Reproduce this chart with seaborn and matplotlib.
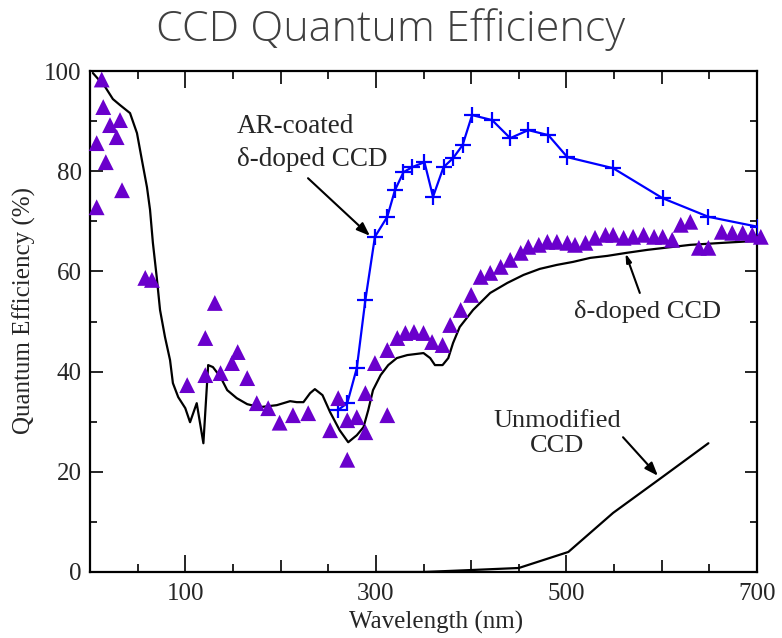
import matplotlib
matplotlib.use("Agg")
import matplotlib.pyplot as plt
import seaborn as sns
import pandas as pd
from matplotlib.ticker import FixedLocator, FixedFormatter

# ---------------- data ----------------
model_x = [3, 16, 24, 31.5, 42, 49.3, 54.5, 59.8, 63, 66, 70, 73.5, 78.7, 84, 87,
           92.6, 100, 105, 112, 119, 124, 129, 137, 144, 154, 165, 178, 196, 210,
           217, 224, 231, 236, 244, 252, 262, 271, 280, 287, 292, 297, 305, 313,
           322, 333, 350, 357, 362, 370, 376, 381, 388, 402, 420, 438, 455, 472,
           490, 507, 525, 543, 563, 585, 612, 630, 664, 700]
model_y = [99.6, 96.8, 94.4, 93.2, 91.6, 87.6, 82.2, 76.8, 72.3, 65.7, 58.9, 52.3,
           46.9, 42.3, 37.7, 34.9, 32.7, 29.9, 33.7, 25.7, 41.3, 40.9, 38.9, 36.3,
           34.7, 33.5, 32.9, 33.3, 34.1, 33.9, 33.9, 35.7, 36.5, 35.3, 31.9, 28.3,
           25.9, 27.3, 28.9, 32.3, 36.3, 39.3, 41.3, 42.7, 43.3, 43.7, 42.7, 41.3,
           41.3, 42.7, 45.7, 48.9, 52.3, 55.7, 57.7, 59.3, 60.5, 61.3, 61.9, 62.7,
           63.1, 63.7, 64.3, 64.9, 65.3, 65.7, 66.1]

ar_x = [260, 270, 280, 289, 299, 312, 320, 329, 338, 351, 360, 371, 381, 391, 401,
        422, 441, 460, 481, 501, 549, 601, 649, 701]
ar_y = [32.3, 33.7, 40.7, 54.3, 66.9, 70.9, 76.2, 79.8, 80.8, 81.8, 74.9, 80.8,
        82.6, 85.2, 91.2, 90.2, 86.6, 88.2, 87.2, 82.8, 80.6, 74.6, 70.9, 68.9]

meas_x = [7, 7, 12.3, 13.9, 16.6, 21, 28, 31.5, 33.6, 58, 65, 102, 121, 121, 131,
          137, 149, 155, 165, 175, 187, 199, 213, 229, 252, 260.5, 270, 270, 280,
          289, 289, 299, 312, 312, 322.5, 331, 340, 350, 359, 370, 378, 389, 400,
          410, 420, 431, 441, 452, 460, 471, 480, 490, 501, 509, 520, 530, 541,
          549, 560, 570, 581, 592, 601, 611, 620, 630, 639, 649, 663, 674, 685,
          695, 704]
meas_y = [85.6, 72.8, 98.3, 92.8, 81.8, 89.2, 86.8, 90.2, 76.2, 58.7, 58.3, 37.3,
          46.7, 39.3, 53.7, 39.7, 41.7, 43.9, 38.7, 33.7, 32.7, 29.8, 31.3, 31.7,
          28.3, 34.7, 30.3, 22.4, 30.9, 27.9, 35.7, 41.7, 31.3, 44.3, 46.7, 47.7,
          47.9, 47.7, 45.9, 45.3, 49.3, 52.3, 55.3, 58.9, 59.7, 60.9, 62.3, 63.7,
          64.9, 65.3, 65.9, 65.9, 65.7, 65.3, 65.7, 66.7, 67.3, 67.3, 66.7, 66.9,
          67.3, 66.9, 66.9, 66.3, 69.3, 69.9, 64.7, 64.7, 67.9, 67.7, 67.7, 67.3,
          66.9]

unmod_x = [300, 350, 401, 450, 502, 549, 601, 649]
unmod_y = [0, 0, 0.4, 0.8, 4.0, 11.8, 19.0, 25.7]

x_major = [100, 200, 300, 400, 500, 600, 700]
x_labels = ["100", "", "300", "", "500", "", "700"]
y_major = [0, 20, 40, 60, 80, 100]

# ---------------- style ----------------
sns.set_style("ticks")
plt.rcParams["font.family"] = ["Liberation Serif", "DejaVu Serif"]

fig = plt.figure(figsize=(7.82, 6.38), dpi=100)
ax = fig.add_axes([90 / 782, 66 / 638, 667 / 782, 501 / 638])

df_model = pd.DataFrame({"x": model_x, "y": model_y})
df_ar = pd.DataFrame({"x": ar_x, "y": ar_y})
df_meas = pd.DataFrame({"x": meas_x, "y": meas_y})
df_unmod = pd.DataFrame({"x": unmod_x, "y": unmod_y})

sns.lineplot(data=df_model, x="x", y="y", ax=ax, color="black", lw=1.6,
             sort=False, estimator=None, zorder=3)
sns.lineplot(data=df_unmod, x="x", y="y", ax=ax, color="black", lw=1.6,
             sort=False, estimator=None, zorder=3)
sns.lineplot(data=df_ar, x="x", y="y", ax=ax, color="#0000FF", lw=1.6,
             sort=False, estimator=None, marker="+", markersize=11,
             markeredgewidth=1.6, markeredgecolor="#0000FF", zorder=4)
sns.scatterplot(data=df_meas, x="x", y="y", ax=ax, marker="^", s=130,
                color="#6A00CC", edgecolor="none", linewidth=0, zorder=5,
                clip_on=False)

ax.set_xlim(0, 700)
ax.set_ylim(0, 100)
ax.set_xlabel("")
ax.set_ylabel("")

for sp in ax.spines.values():
    sp.set_visible(True)
    sp.set_linewidth(1.6)
    sp.set_color("black")

ax.xaxis.set_major_locator(FixedLocator([100, 300, 500, 700]))
ax.xaxis.set_major_formatter(FixedFormatter(["100", "300", "500", "700"]))
ax.xaxis.set_minor_locator(FixedLocator(list(range(50, 700, 100))))
ax.yaxis.set_major_locator(FixedLocator(y_major))
ax.yaxis.set_minor_locator(FixedLocator([10, 30, 50, 70, 90]))

ax.tick_params(axis="both", which="both", direction="in", top=True, right=True,
               color="black", width=1.2)
ax.tick_params(axis="x", which="major", length=12, labelsize=18, pad=8)
ax.tick_params(axis="x", which="minor", length=6)
ax.tick_params(axis="y", which="major", length=9, labelsize=18, pad=6)
ax.tick_params(axis="y", which="minor", length=5)

# intermediate-length ticks at 200, 400, 600
for loc in ["bottom", "top"]:
    sec = ax.secondary_xaxis(loc)
    sec.set_xticks([x for x, l in zip(x_major, x_labels) if l == ""])
    sec.tick_params(direction="in", length=9, width=1.2, color="black",
                    labelbottom=False, labeltop=False)
    for sp in sec.spines.values():
        sp.set_visible(False)

ax.text(0.519, -0.10, "Wavelength (nm)", transform=ax.transAxes, ha="center",
        va="center", fontsize=18)
ax.text(-0.099, 0.521, "Quantum Efficiency (%)", transform=ax.transAxes,
        ha="center", va="center", rotation=90, fontsize=18)

fig.text(0.5, 1 - 30 / 638, "CCD Quantum Efficiency", ha="center", va="center",
         fontsize=31, family=["Open Sans", "DejaVu Sans"], fontweight="light",
         color="#404040")

arrow = dict(arrowstyle="-|>,head_length=0.8,head_width=0.3", color="black",
             lw=1.5, shrinkA=0, shrinkB=0)
ax.annotate("", xy=(293.8, 67.1), xytext=(228.8, 78.6), arrowprops=arrow)
ax.text(154, 85.6, "AR-coated\n\u03b4-doped CCD", ha="left", va="center",
        fontsize=19.5, linespacing=1.4)

ax.annotate("", xy=(562, 63.6), xytext=(577, 55.7),
            arrowprops=dict(arrowstyle="-|>,head_length=0.5,head_width=0.15",
                            color="black", lw=1.5, shrinkA=0, shrinkB=0))
ax.text(585.6, 51.9, "\u03b4-doped CCD", ha="center", va="center", fontsize=19)

ax.annotate("", xy=(596, 19.2), xytext=(559.4, 26.9), arrowprops=arrow)
ax.text(490, 27.7, "Unmodified\nCCD", ha="center", va="center", fontsize=19,
        linespacing=1.2)

fig.savefig("out.png", dpi=100)
